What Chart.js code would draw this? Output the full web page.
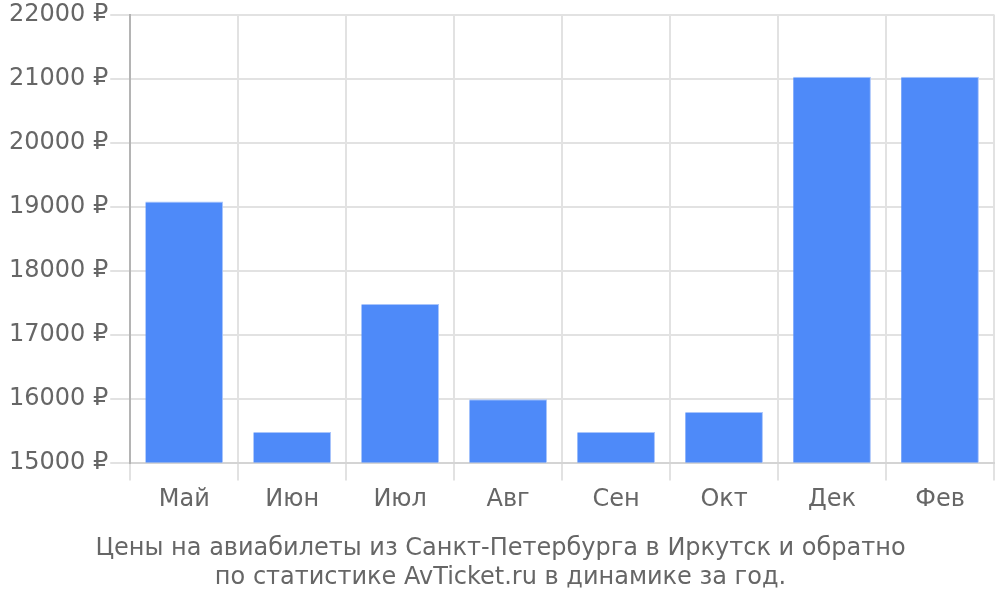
<!DOCTYPE html>
<html>
<head>
<meta charset="utf-8">
<script src="https://cdn.jsdelivr.net/npm/chart.js@4/dist/chart.umd.min.js"></script>
<style>
  html, body { margin: 0; padding: 0; background: #fff; }
  #wrap { width: 1000px; height: 600px; }
</style>
</head>
<body>
<div id="wrap"><canvas id="priceChart" width="1000" height="600"></canvas></div>
<script>
// данные графика
const months = ['Май', 'Июн', 'Июл', 'Авг', 'Сен', 'Окт', 'Дек', 'Фев'];
const prices = [19080, 15480, 17480, 15990, 15480, 15790, 21030, 21030];
const yTicks = [15000, 16000, 17000, 18000, 19000, 20000, 21000, 22000];
const titleLines = ['Цены на авиабилеты из Санкт-Петербурга в Иркутск и обратно', 'по статистике AvTicket.ru в динамике за год.'];

const fontFam = "'DejaVu Sans', sans-serif";
const txtColor = '#666';

new Chart(document.getElementById('priceChart'), {
  type: 'bar',
  data: {
    labels: months,
    datasets: [{
      data: prices,
      backgroundColor: '#4e8af9',
      borderColor: '#a9c5fb',
      borderWidth: { top: 1, right: 1, left: 0, bottom: 0 },
      barPercentage: 0.72,
      categoryPercentage: 1
    }]
  },
  options: {
    responsive: false,
    animation: false,
    layout: { padding: { top: 0, right: 6, left: 7, bottom: 8 } },
    plugins: {
      legend: { display: false },
      tooltip: { enabled: false },
      title: {
        display: true,
        position: 'bottom',
        text: titleLines,
        color: txtColor,
        font: { family: fontFam, size: 24, weight: 'normal', lineHeight: 1.2 },
        padding: { top: 15, bottom: 0 }
      }
    },
    scales: {
      x: {
        grid: { color: '#e2e2e2', lineWidth: 2, tickLength: 18, offset: true },
        border: { color: '#d4d4d4', width: 2 },
        ticks: { color: txtColor, font: { family: fontFam, size: 24 }, padding: 5 }
      },
      y: {
        min: yTicks[0],
        max: yTicks[yTicks.length - 1],
        afterBuildTicks: (axis) => { axis.ticks = yTicks.map(v => ({ value: v })); },
        grid: { color: '#e2e2e2', lineWidth: 2, tickLength: 20 },
        border: { color: '#b4b4b4', width: 2 },
        ticks: {
          color: txtColor,
          font: { family: fontFam, size: 24, lineHeight: 1.05 },
          padding: 2,
          callback: (v) => v + ' ₽'
        }
      }
    }
  }
});
</script>
</body>
</html>
